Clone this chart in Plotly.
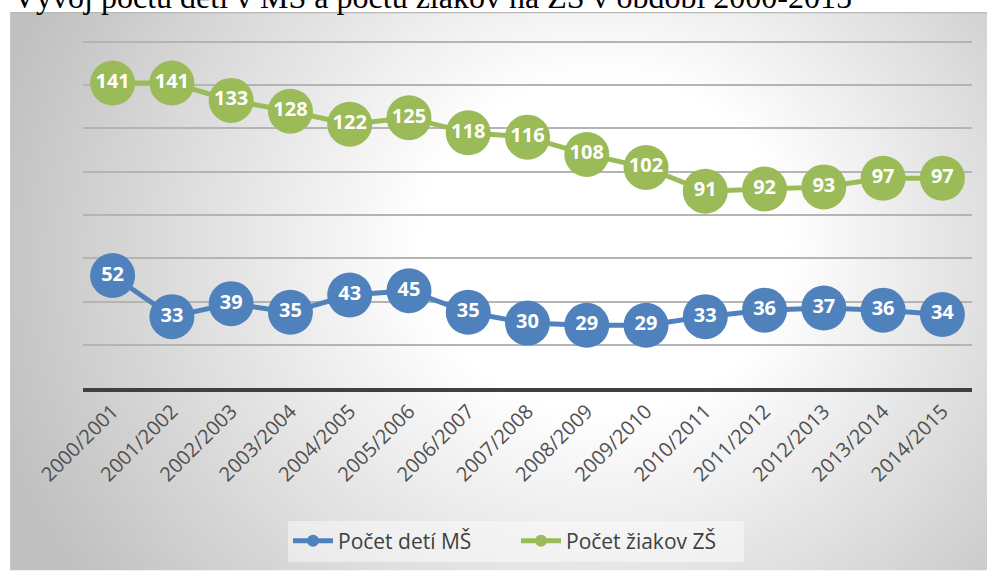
import base64
import plotly.graph_objects as go

# ---- data ----
categories = ["2000/2001", "2001/2002", "2002/2003", "2003/2004", "2004/2005",
              "2005/2006", "2006/2007", "2007/2008", "2008/2009", "2009/2010",
              "2010/2011", "2011/2012", "2012/2013", "2013/2014", "2014/2015"]
ms_children = [52, 33, 39, 35, 43, 45, 35, 30, 29, 29, 33, 36, 37, 36, 34]
zs_pupils = [141, 141, 133, 128, 122, 125, 118, 116, 108, 102, 91, 92, 93, 97, 97]
series_names = ["Počet detí MŠ", "Počet žiakov ZŠ"]
title_text = "Vývoj počtu detí v MŠ a počtu žiakov na ZŠ v období 2000-2015"

BLUE = "#4F81BD"
GREEN = "#9BBB59"

W, H = 987, 572
ML, MR, MT, MB = 83, 15, 38, 183
PW = W - ML - MR
PH = H - MT - MB
Y_TOP = 160 * PH / (389 - 42)   # keeps 0..160 spanning y=389..42 px


def px_x(p):
    return (p - ML) / PW


def px_y(p):
    return (H - MB - p) / PH


# background chart box with radial gradient (SVG data URI)
BOX_X0, BOX_Y0 = 10, 12
BOX_W, BOX_H = W - BOX_X0, H - BOX_Y0
svg = f"""<svg xmlns='http://www.w3.org/2000/svg' width='{BOX_W}' height='{BOX_H}' viewBox='0 0 {BOX_W} {BOX_H}' preserveAspectRatio='none'>
<defs><radialGradient id='g' cx='0.58' cy='0.45' r='0.62' fx='0.62' fy='0.42'
 gradientTransform='translate(0.58,0.45) scale(1,1.6) translate(-0.58,-0.45)'>
<stop offset='0' stop-color='#ffffff'/>
<stop offset='0.3' stop-color='#ffffff'/>
<stop offset='1' stop-color='#c0c0c0'/>
</radialGradient></defs>
<rect x='0' y='0' width='{BOX_W}' height='{BOX_H}' fill='url(#g)'/>
<line x1='0' y1='0.5' x2='{BOX_W}' y2='0.5' stroke='#b8b8b8' stroke-width='1.5'/>
<line x1='0.5' y1='0' x2='0.5' y2='{BOX_H}' stroke='#c8c8c8' stroke-width='1'/>
</svg>"""
svg_uri = "data:image/svg+xml;base64," + base64.b64encode(svg.encode("utf-8")).decode("ascii")

fig = go.Figure()

for vals, color in [(ms_children, BLUE), (zs_pupils, GREEN)]:
    fig.add_trace(go.Scatter(
        x=categories, y=vals, mode="lines+markers+text",
        text=[str(v) for v in vals], textposition="middle center",
        textfont=dict(family="Open Sans", size=20, color="white", weight="bold"),
        line=dict(color=color, width=5),
        marker=dict(color=color, size=45, line=dict(width=0)),
        showlegend=False, cliponaxis=False, hoverinfo="x+y",
    ))

for name, color in zip(series_names, [BLUE, GREEN]):
    fig.add_trace(go.Scatter(
        x=[None], y=[None], mode="lines+markers", name=name,
        line=dict(color=color, width=5),
        marker=dict(color=color, size=12),
    ))

fig.update_layout(
    width=W, height=H,
    margin=dict(l=ML, r=MR, t=MT, b=MB, pad=0),
    paper_bgcolor="white",
    plot_bgcolor="rgba(0,0,0,0)",
    font=dict(family="Open Sans", color="#595959"),
    images=[dict(source=svg_uri, xref="paper", yref="paper",
                 x=px_x(BOX_X0), y=px_y(BOX_Y0),
                 sizex=BOX_W / PW, sizey=BOX_H / PH,
                 xanchor="left", yanchor="top", sizing="stretch", layer="below")],
    xaxis=dict(type="category", range=[-0.5, 14.5], showgrid=False,
               showline=True, linecolor="#404040", linewidth=3.5,
               ticks="", tickangle=-45,
               tickfont=dict(family="Open Sans", size=20, color="#505050"),
               fixedrange=True),
    yaxis=dict(range=[0, Y_TOP], dtick=20, showticklabels=False,
               showgrid=True, gridcolor="#b4b4b4", gridwidth=1.5,
               zeroline=False, showline=False, fixedrange=True),
    legend=dict(orientation="h", x=px_x(516), y=px_y(541),
                xanchor="center", yanchor="middle",
                bgcolor="rgba(255,255,255,0.45)",
                font=dict(family="Open Sans", size=21, color="#404040"),
                itemsizing="constant", itemwidth=40, entrywidth=173),
    annotations=[dict(text=title_text, xref="paper", yref="paper",
                      x=px_x(11), y=px_y(-3), xanchor="left", yanchor="middle",
                      showarrow=False,
                      font=dict(family="Liberation Serif", size=32, color="black"))],
)

fig.write_html("out.html", config={"displayModeBar": False},
               post_script="document.body.style.margin='0';")
